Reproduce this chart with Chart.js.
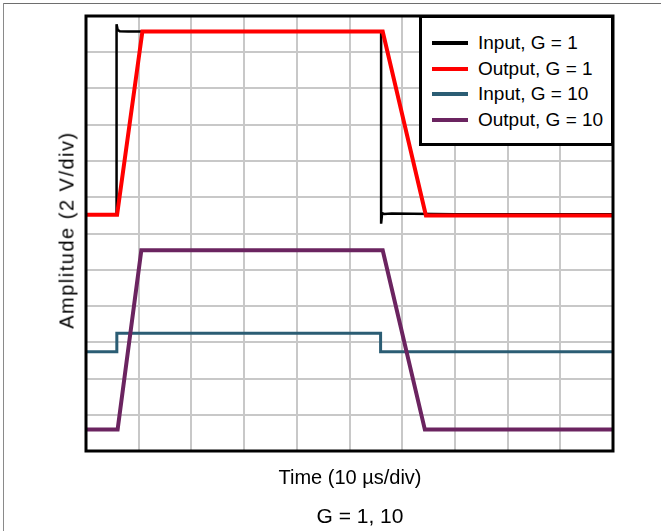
<!DOCTYPE html>
<html>
<head>
<meta charset="utf-8">
<script src="https://cdn.jsdelivr.net/npm/chart.js@4.4.1/dist/chart.umd.min.js"></script>
<style>
  html, body { margin: 0; padding: 0; background: #fff; }
  body { width: 661px; height: 531px; position: relative; overflow: hidden; font-family: "Liberation Sans", Arial, sans-serif; color: #000; }
  .edge-top { position: absolute; left: 3px; top: 3px; width: 658px; height: 0; border-top: 1.5px solid #6e6e6e; }
  .edge-left { position: absolute; left: 3px; top: 3px; width: 0; height: 528px; border-left: 1.5px solid #8a8a8a; }
  #wrap { position: absolute; left: 0; top: 0; width: 661px; height: 531px; }
  .legend { position: absolute; left: 419px; top: 15px; width: 195px; height: 131px; box-sizing: border-box; border: 3px solid #000; background: #fff; }
  .legend .row { position: absolute; left: 0; height: 24px; width: 100%; }
  .legend .swatch { position: absolute; left: 10px; top: 10px; width: 36px; height: 4px; }
  .legend .txt { position: absolute; left: 56px; top: 0; font-size: 19px; line-height: 24px; white-space: nowrap; }
  .ytitle { position: absolute; left: 67px; top: 230px; transform: translate(-50%, -50%) rotate(-90deg); font-size: 20px; letter-spacing: 1.5px; white-space: nowrap; }
  .xtitle { position: absolute; left: 350px; top: 477px; transform: translate(-50%, -50%); font-size: 20px; white-space: nowrap; }
  .caption { position: absolute; left: 360px; top: 516px; transform: translate(-50%, -50%); font-size: 21px; white-space: nowrap; }
</style>
</head>
<body>
<div class="edge-top"></div>
<div class="edge-left"></div>
<div id="wrap"><canvas id="myChart" width="661" height="531"></canvas></div>
<div class="legend" id="legend"></div>
<div class="ytitle">Amplitude (2 V/div)</div>
<div class="xtitle">Time (10 &micro;s/div)</div>
<div class="caption">G = 1, 10</div>
<script>
// time in divisions (10 us/div), amplitude in divisions (2 V/div)
const inG1Time = [0, 0.58, 0.58, 0.6, 0.64, 0.8, 1.2, 2.5, 4, 5.6, 5.6, 5.62, 5.66, 5.8, 7, 8.5, 10];
const inG1Amp = [6.52, 6.52, 11.77, 11.62, 11.58, 11.57, 11.57, 11.57, 11.57, 11.57, 6.27, 6.56, 6.54, 6.55, 6.53, 6.53, 6.53];

const outG1Time = [0, 0.59, 1.07, 5.63, 6.45, 10];
const outG1Amp = [6.52, 6.52, 11.57, 11.57, 6.5, 6.5];

const inG10Time = [0, 0.585, 0.585, 5.59, 5.59, 10];
const inG10Amp = [2.74, 2.74, 3.25, 3.25, 2.74, 2.74];

const outG10Time = [0, 0.6, 1.05, 5.63, 6.43, 10];
const outG10Amp = [0.59, 0.59, 5.54, 5.54, 0.59, 0.59];

const xTicks = [0, 1, 2, 3, 4, 5, 6, 7, 8, 9, 10];
const yTicks = [0, 1, 2, 3, 4, 5, 6, 7, 8, 9, 10, 11, 12];

const seriesNames = ['Input, G = 1', 'Output, G = 1', 'Input, G = 10', 'Output, G = 10'];
const seriesColors = ['#000000', '#ff0000', '#2b5d74', '#6b2460'];

const toPoints = (t, a) => t.map((v, i) => ({ x: v, y: a[i] }));

// frame around the plot area, drawn on top of the traces
const framePlugin = {
  id: 'frame',
  afterDatasetsDraw(chart) {
    const { ctx, chartArea } = chart;
    ctx.save();
    ctx.strokeStyle = '#000';
    ctx.lineWidth = 3;
    ctx.strokeRect(chartArea.left, chartArea.top, chartArea.right - chartArea.left, chartArea.bottom - chartArea.top);
    ctx.restore();
  },
};

function line(label, color, width, data, order) {
  return {
    label: label,
    data: data,
    borderColor: color,
    backgroundColor: color,
    borderWidth: width,
    pointRadius: 0,
    tension: 0,
    fill: false,
    order: order,
    borderJoinStyle: 'miter',
  };
}

const ctx = document.getElementById('myChart').getContext('2d');
const myChart = new Chart(ctx, {
  type: 'line',
  data: {
    datasets: [
      line(seriesNames[0], seriesColors[0], 2.5, toPoints(inG1Time, inG1Amp), 4),
      line(seriesNames[1], seriesColors[1], 4, toPoints(outG1Time, outG1Amp), 2),
      line(seriesNames[2], seriesColors[2], 3, toPoints(inG10Time, inG10Amp), 3),
      line(seriesNames[3], seriesColors[3], 4, toPoints(outG10Time, outG10Amp), 1),
    ],
  },
  options: {
    responsive: false,
    animation: false,
    devicePixelRatio: 1,
    layout: { padding: { left: 86, top: 16, right: 48, bottom: 80 } },
    plugins: { legend: { display: false }, tooltip: { enabled: false } },
    scales: {
      x: {
        type: 'linear',
        min: xTicks[0],
        max: xTicks[xTicks.length - 1],
        afterBuildTicks: axis => { axis.ticks = xTicks.map(v => ({ value: v })); },
        ticks: { display: false },
        grid: { color: '#c8c8c8', lineWidth: 2, drawTicks: false },
        border: { display: false },
      },
      y: {
        type: 'linear',
        min: yTicks[0],
        max: yTicks[yTicks.length - 1],
        afterBuildTicks: axis => { axis.ticks = yTicks.map(v => ({ value: v })); },
        ticks: { display: false },
        grid: { color: '#c8c8c8', lineWidth: 2, drawTicks: false },
        border: { display: false },
      },
    },
  },
  plugins: [framePlugin],
});

// legend box built from the dataset names and colours
const legendBox = document.getElementById('legend');
seriesNames.forEach((name, i) => {
  const row = document.createElement('div');
  row.className = 'row';
  row.style.top = (13 + i * 25.5) + 'px';
  row.innerHTML = '<span class="swatch" style="background:' + seriesColors[i] + '"></span><span class="txt">' + name + '</span>';
  legendBox.appendChild(row);
});
</script>
</body>
</html>
